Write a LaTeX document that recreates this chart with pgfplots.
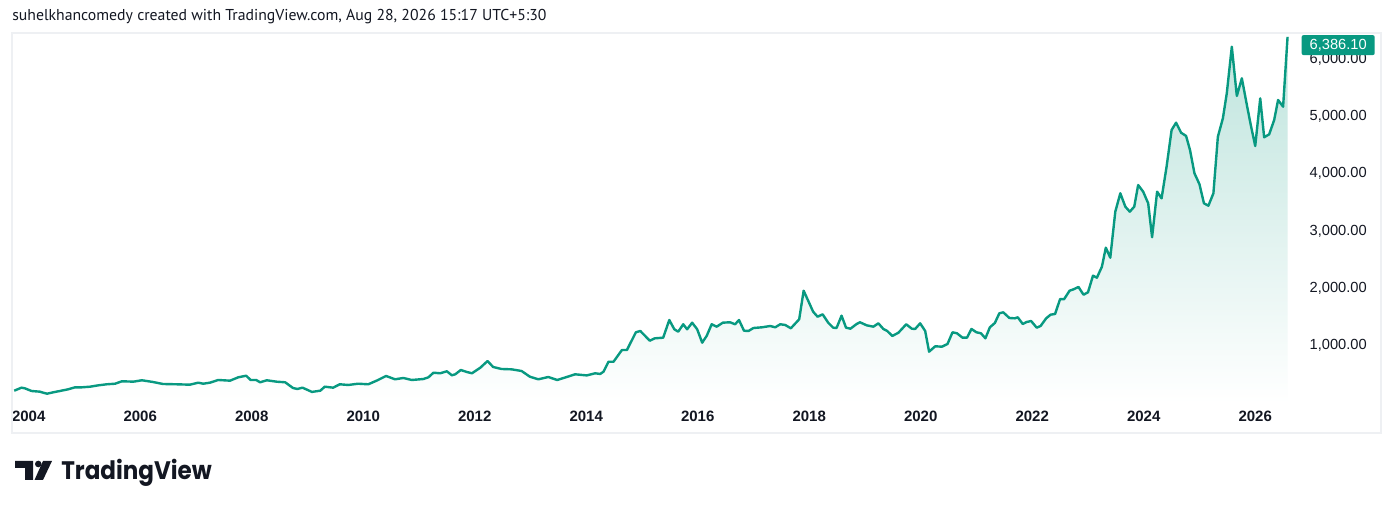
\documentclass[border=0pt]{standalone}
\usepackage{fontspec}
\setmainfont{Liberation Sans}
\newfontfamily\ptsans{PT Sans}
\newfontfamily\poppins{Poppins}
\usepackage{pgfplots}
\pgfplotsset{compat=1.18}
\usepackage{pgfplotstable}
\definecolor{tvgreen}{RGB}{8,153,129}
\definecolor{tvfill}{RGB}{190,228,221}
\definecolor{tvdark}{RGB}{19,23,34}
\definecolor{tvframe}{RGB}{238,240,243}

\pgfplotstableread{
year value
2003.74 211
2003.87 264
2003.93 253
2004.05 206
2004.20 194
2004.26 176
2004.33 159
2004.44 183
2004.56 206
2004.71 236
2004.83 270
2004.95 270
2005.10 281
2005.25 305
2005.40 323
2005.55 333
2005.67 375
2005.88 369
2006.03 393
2006.23 363
2006.41 328
2006.65 323
2006.89 316
2007.04 351
2007.13 333
2007.25 351
2007.40 398
2007.61 386
2007.76 445
2007.90 473
2007.98 398
2008.08 398
2008.15 358
2008.27 393
2008.45 368
2008.60 358
2008.74 258
2008.82 241
2008.91 264
2009.08 190
2009.23 211
2009.31 281
2009.46 264
2009.58 323
2009.73 311
2009.91 333
2010.09 323
2010.24 386
2010.41 468
2010.57 410
2010.72 433
2010.87 398
2011.08 415
2011.17 445
2011.26 525
2011.38 515
2011.50 550
2011.59 480
2011.65 497
2011.75 572
2011.86 537
2011.95 515
2012.10 612
2012.23 729
2012.33 625
2012.48 590
2012.66 584
2012.84 555
2012.99 455
2013.14 410
2013.32 450
2013.48 398
2013.65 450
2013.80 497
2014.01 478
2014.16 515
2014.25 503
2014.31 543
2014.40 717
2014.49 717
2014.64 921
2014.73 921
2014.89 1230
2014.97 1253
2015.14 1084
2015.23 1125
2015.38 1136
2015.49 1445
2015.58 1283
2015.65 1241
2015.74 1370
2015.81 1283
2015.90 1398
2015.99 1283
2016.08 1049
2016.16 1166
2016.25 1370
2016.34 1328
2016.45 1398
2016.58 1405
2016.67 1370
2016.74 1445
2016.83 1258
2016.91 1253
2017.00 1305
2017.15 1317
2017.30 1340
2017.39 1317
2017.48 1370
2017.57 1358
2017.67 1300
2017.82 1457
2017.90 1956
2018.07 1590
2018.15 1502
2018.24 1544
2018.34 1398
2018.43 1311
2018.49 1305
2018.58 1520
2018.66 1311
2018.74 1293
2018.85 1375
2018.91 1405
2019.03 1352
2019.15 1328
2019.24 1387
2019.33 1288
2019.40 1253
2019.49 1166
2019.60 1223
2019.74 1370
2019.84 1293
2019.90 1288
2019.99 1387
2020.08 1253
2020.15 892
2020.26 986
2020.38 979
2020.48 1026
2020.57 1230
2020.65 1213
2020.75 1136
2020.83 1136
2020.91 1288
2021.00 1230
2021.08 1213
2021.16 1125
2021.24 1317
2021.33 1393
2021.41 1562
2021.48 1579
2021.59 1480
2021.69 1474
2021.74 1492
2021.83 1375
2021.90 1410
2021.98 1427
2022.08 1311
2022.15 1340
2022.25 1474
2022.33 1538
2022.41 1550
2022.50 1811
2022.57 1806
2022.67 1956
2022.74 1980
2022.83 2021
2022.92 1886
2023.00 1928
2023.09 2218
2023.16 2183
2023.25 2375
2023.32 2707
2023.40 2532
2023.49 3335
2023.58 3656
2023.67 3422
2023.75 3335
2023.83 3422
2023.90 3800
2023.99 3684
2024.08 3481
2024.15 2888
2024.24 3684
2024.32 3568
2024.41 4120
2024.50 4760
2024.58 4888
2024.67 4713
2024.76 4656
2024.83 4411
2024.91 4005
2025.00 3813
2025.08 3481
2025.16 3439
2025.25 3656
2025.33 4643
2025.42 4965
2025.49 5401
2025.58 6214
2025.67 5354
2025.76 5662
2025.85 5197
2025.92 4848
2026.00 4481
2026.09 5313
2026.16 4633
2026.25 4685
2026.34 4935
2026.41 5284
2026.50 5167
2026.58 6386.1
}\datatable

\begin{document}
\begin{tikzpicture}
\begin{scope}[x=0.75pt,y=0.75pt]
\path[use as bounding box] (0,0) rectangle (1394,509);
\fill[white] (0,0) rectangle (1394,509);
\end{scope}
\begin{axis}[
  at={(9pt,57pt)}, anchor=south west,
  scale only axis, width=1026.75pt, height=300pt,
  xmin=2003.70, xmax=2028.256, ymin=-527, ymax=6453,
  axis line style={draw=none},
  major tick length=0pt,
  clip=false,
  xtick={2004,2006,2008,2010,2012,2014,2016,2018,2020,2022,2024,2026},
  xticklabels={2004,2006,2008,2010,2012,2014,2016,2018,2020,2022,2024,2026},
  xticklabel style={font=\fontsize{11.25pt}{13pt}\selectfont\bfseries, text=tvdark, anchor=center, yshift=12.2pt, inner sep=0pt},
  ytick={1000,2000,3000,4000,5000,6000},
  yticklabel pos=right,
  yticklabel style={font=\fontsize{11pt}{13pt}\selectfont, text=tvdark, anchor=east, xshift=-10.5pt, inner sep=0pt,
    /pgf/number format/.cd, fixed, fixed zerofill, precision=2, 1000 sep={,}, assume math mode=true},
]
\addplot[draw=none, top color=tvfill, bottom color=white] table[x=year,y=value] {\datatable} \closedcycle;
\addplot[color=tvgreen, line width=1.8pt, line join=round] table[x=year,y=value] {\datatable};
\node[anchor=east, fill=tvgreen, text=white, rounded corners=1.5pt, inner xsep=6pt, inner ysep=0pt,
  minimum height=15pt, font=\fontsize{11pt}{13pt}\selectfont, xshift=-4.5pt, yshift=-6.2pt]
  at (axis cs:2028.256,6386.1) {6,386.10};
\end{axis}
\begin{scope}[x=0.75pt,y=0.75pt]
\draw[tvframe, line width=1.5pt] (12,76) rectangle (1381,476);
\node[anchor=base west, inner sep=0pt, font=\ptsans\fontsize{11.82pt}{14pt}\selectfont, text=tvdark]
  at (12,488.3) {suhelkhancomedy created with TradingView.com, Aug 28, 2026 15:17 UTC+5:30};
\fill[tvdark] (15,48) -- (33,48) -- (33,29) -- (25,29) -- (25,41) -- (15,41) -- cycle;
\fill[tvdark] (38.3,45) circle (3.3);
\fill[tvdark] (43,48) -- (52,48) -- (43,29) -- (34.5,29) -- cycle;
\node[anchor=base west, inner sep=0pt, text=tvdark]
  at (61,29) {\scalebox{0.91}[1]{\poppins\bfseries\fontsize{19pt}{22pt}\selectfont TradingView}};
\end{scope}
\end{tikzpicture}
\end{document}
